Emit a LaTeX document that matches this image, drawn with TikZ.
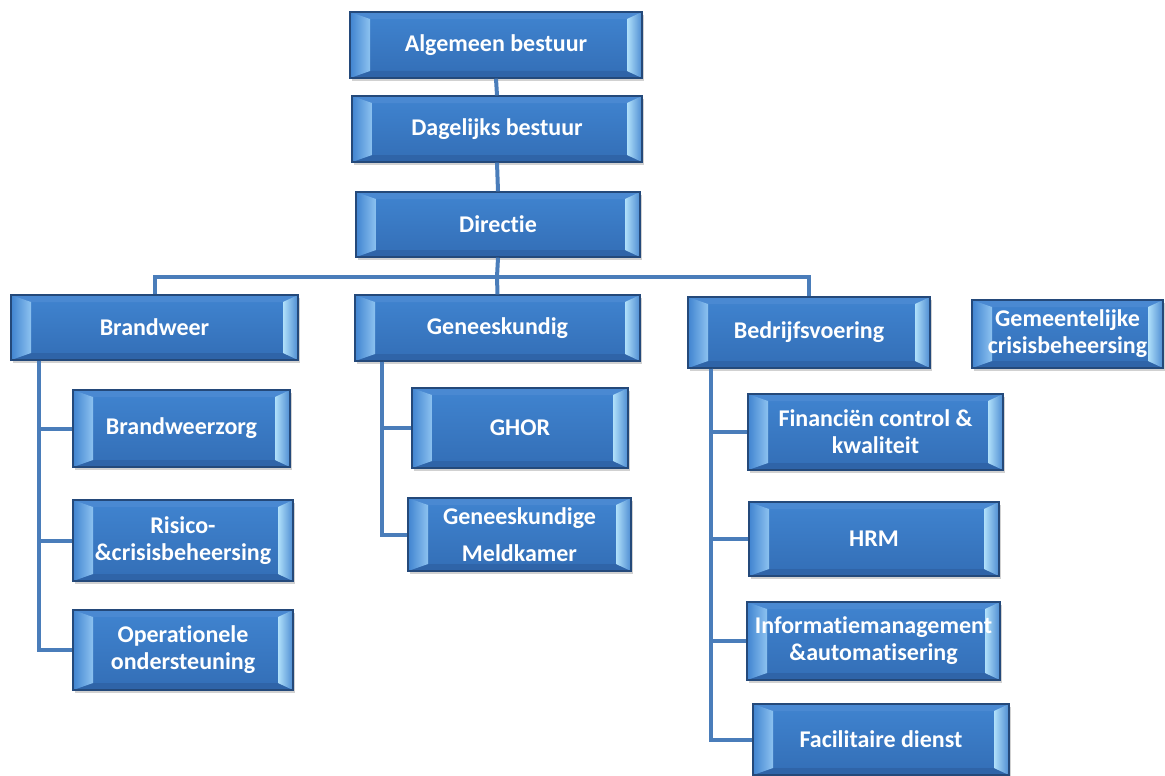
\documentclass[tikz,border=0pt]{standalone}
\usepackage{fontspec}
\setmainfont{Carlito}[Ligatures=NoCommon]
\usetikzlibrary{shadows}
\definecolor{boxborder}{HTML}{24497A}
\definecolor{bodytop}{HTML}{4084D0}
\definecolor{bodybot}{HTML}{336EB6}
\definecolor{bevleft}{HTML}{8DC2F0}
\definecolor{bevright}{HTML}{B0E0FA}
\definecolor{bevrightout}{HTML}{4D8CD2}
\definecolor{bevtop}{HTML}{4A89D2}
\definecolor{bevbot}{HTML}{2F64A8}
\definecolor{connblue}{HTML}{4A7DBA}
\tikzset{
  orgbox/.style={draw=boxborder, line width=1.4pt, top color=bodytop, bottom color=bodybot,
    text=white, font=\bfseries\fontsize{24}{27}\selectfont, align=center, inner sep=0pt,
    drop shadow={shadow xshift=2pt, shadow yshift=-3pt, opacity=0.3, fill=black!60},
    path picture={
      \coordinate (pNW) at (path picture bounding box.north west);
      \coordinate (pNE) at (path picture bounding box.north east);
      \coordinate (pSW) at (path picture bounding box.south west);
      \coordinate (pSE) at (path picture bounding box.south east);
      \coordinate (qNW) at ([xshift=20pt,yshift=-7pt]pNW);
      \coordinate (qNE) at ([xshift=-15pt,yshift=-7pt]pNE);
      \coordinate (qSW) at ([xshift=20pt,yshift=7pt]pSW);
      \coordinate (qSE) at ([xshift=-15pt,yshift=7pt]pSE);
      \fill[bevtop] (pNW) -- (pNE) -- (qNE) -- (qNW) -- cycle;
      \fill[bevbot] (pSW) -- (qSW) -- (qSE) -- (pSE) -- cycle;
      \shade[left color=bodytop, right color=bevleft] (pNW) -- (qNW) -- (qSW) -- (pSW) -- cycle;
      \shade[left color=bevright, right color=bevrightout] (qNE) -- (pNE) -- (pSE) -- (qSE) -- cycle;
    }},
  conn/.style={draw=connblue, line width=4pt}
}
\begin{document}
\begin{tikzpicture}[x=1pt,y=-1pt]
\useasboundingbox (0,0) rectangle (1165,776);
% top chain
\node[orgbox, minimum width=292pt, minimum height=66pt] (ab) at (496,45) {Algemeen bestuur};
\node[orgbox, minimum width=290pt, minimum height=66pt] (db) at (497,129) {Dagelijks bestuur};
\node[orgbox, minimum width=284pt, minimum height=65pt] (dir) at (498,224.5) {Directie};
% second level
\node[orgbox, minimum width=287pt, minimum height=65pt] (bw) at (154.5,327.5) {Brandweer};
\node[orgbox, minimum width=285pt, minimum height=66pt] (gk) at (497.5,328) {Geneeskundig};
\node[orgbox, minimum width=242pt, minimum height=71pt] (bv) at (809,332.5) {Bedrijfsvoering};
\node[orgbox, minimum width=191pt, minimum height=68pt] (gc) at (1067.5,334) {Gemeentelijke\\crisisbeheersing};
% Brandweer children
\node[orgbox, minimum width=217pt, minimum height=77pt] (bwz) at (181.5,428.5) {Brandweerzorg};
\node[orgbox, minimum width=220pt, minimum height=81pt] (rc) at (183,540.5) {Risico-\\\&crisisbeheersing};
\node[orgbox, minimum width=220pt, minimum height=80pt] (op) at (183,650) {Operationele\\ondersteuning};
% Geneeskundig children
\node[orgbox, minimum width=216pt, minimum height=80pt] (ghor) at (520,428) {GHOR};
\node[orgbox, minimum width=223pt, minimum height=73pt] (gm) at (519.5,534.5) {Geneeskundige\\[10pt]Meldkamer};
% Bedrijfsvoering children
\node[orgbox, minimum width=255pt, minimum height=76pt] (fin) at (875.5,432) {Financiën control \&\\kwaliteit};
\node[orgbox, minimum width=250pt, minimum height=74pt] (hrm) at (874,539) {HRM};
\node[orgbox, minimum width=253pt, minimum height=78pt] (im) at (873.5,641) {Informatiemanagement\\\&automatisering};
\node[orgbox, minimum width=256pt, minimum height=71pt] (fd) at (881,739.5) {Facilitaire dienst};
% connectors
\coordinate (bus) at (497,277);
\draw[conn] (ab.south) -- (db.north);
\draw[conn] (db.south) -- (dir.north);
\draw[conn] (dir.south) -- (bus);
\draw[conn] (bus) -| (bw.north);
\draw[conn] (bus) -- (gk.north);
\draw[conn] (bus) -| (bv.north);
\draw[conn] ([xshift=29pt]bw.south west) |- (bwz.west);
\draw[conn] ([xshift=29pt]bw.south west) |- (rc.west);
\draw[conn] ([xshift=29pt]bw.south west) |- (op.west);
\draw[conn] ([xshift=28pt]gk.south west) |- (ghor.west);
\draw[conn] ([xshift=28pt]gk.south west) |- (gm.west);
\draw[conn] ([xshift=24pt]bv.south west) |- (fin.west);
\draw[conn] ([xshift=24pt]bv.south west) |- (hrm.west);
\draw[conn] ([xshift=24pt]bv.south west) |- (im.west);
\draw[conn] ([xshift=24pt]bv.south west) |- (fd.west);
\end{tikzpicture}
\end{document}
